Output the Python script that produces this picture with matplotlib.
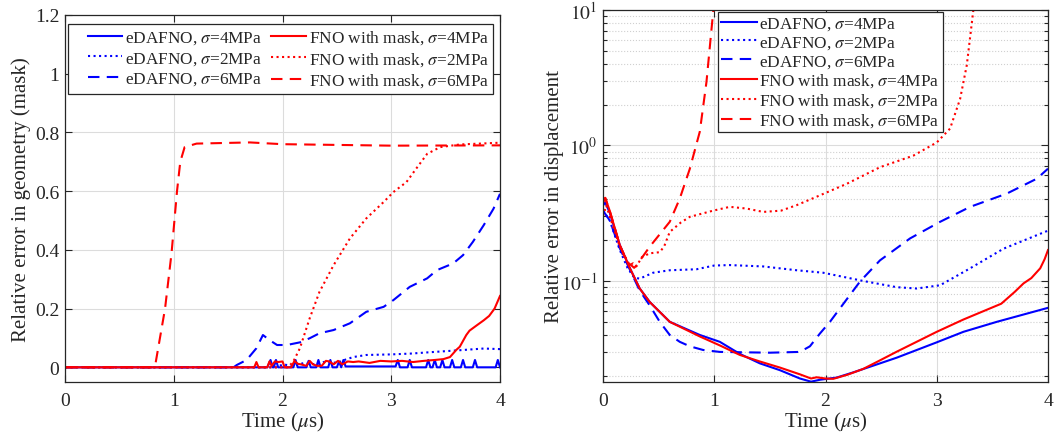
import matplotlib
matplotlib.use("Agg")
import matplotlib.pyplot as plt
from matplotlib.ticker import FixedLocator, LogLocator, NullFormatter
from matplotlib.legend_handler import HandlerLine2D

plt.rcParams['font.family'] = ['Liberation Serif', 'DejaVu Serif']
plt.rcParams['mathtext.fontset'] = 'stix'

# ---------------- Left panel: relative error in geometry (mask) ----------------
L_ed4_t = [0, 1.86, 1.89, 1.91, 1.92, 1.94, 1.96, 2.10, 2.12, 2.14, 2.22, 2.24, 2.26,
           2.31, 2.33, 2.35, 2.42, 2.44, 2.46, 2.50, 2.52, 2.54, 2.56, 2.58, 3.04, 3.06,
           3.08, 3.15, 3.17, 3.19, 3.32, 3.34, 3.36, 3.38, 3.40, 3.42, 3.45, 3.47, 3.49,
           3.54, 3.56, 3.58, 3.64, 3.66, 3.68, 3.75, 3.77, 3.79, 3.96, 3.98, 4.0]
L_ed4_y = [0, 0, 0.025, 0, 0, 0.025, 0, 0, 0.025, 0, 0, 0.022, 0,
           0, 0.025, 0, 0, 0.025, 0, 0, 0.02, 0, 0.025, 0.003, 0.003, 0.025,
           0, 0, 0.025, 0, 0, 0.025, 0, 0, 0.025, 0, 0, 0.025, 0,
           0, 0.025, 0, 0, 0.025, 0, 0, 0.025, 0, 0, 0.025, 0]

L_ed2_t = [0, 1.95, 2.0, 2.1, 2.2, 2.3, 2.4, 2.5, 2.57, 2.65, 2.77, 3.0, 3.19, 3.3, 3.5,
           3.66, 3.85, 4.0]
L_ed2_y = [0, 0, 0.01, 0.005, 0.015, 0.01, 0.02, 0.015, 0.025, 0.035, 0.042, 0.044,
           0.047, 0.05, 0.055, 0.059, 0.064, 0.062]

L_ed6_t = [0, 1.55, 1.58, 1.67, 1.76, 1.82, 1.88, 1.95, 2.04, 2.16, 2.25, 2.34, 2.47,
           2.62, 2.77, 2.93, 3.02, 3.17, 3.33, 3.42, 3.57, 3.66, 3.75, 3.85, 3.94, 4.0]
L_ed6_y = [0, 0, 0.008, 0.025, 0.065, 0.11, 0.093, 0.076, 0.076, 0.085, 0.099, 0.116,
           0.127, 0.15, 0.189, 0.206, 0.229, 0.274, 0.303, 0.331, 0.354, 0.382, 0.427,
           0.484, 0.54, 0.591]

L_fno4_t = [0, 1.74, 1.76, 1.78, 1.86, 1.88, 1.90, 1.93, 1.96, 2.0, 2.02, 2.08, 2.11,
            2.14, 2.17, 2.22, 2.25, 2.28, 2.32, 2.36, 2.40, 2.43, 2.47, 2.51, 2.55, 2.6,
            2.65, 2.7, 2.8, 2.9, 3.0, 3.1, 3.2, 3.3, 3.4, 3.48, 3.54, 3.6, 3.63, 3.69,
            3.72, 3.79, 3.85, 3.9, 3.95, 4.0]
L_fno4_y = [0, 0, 0.018, 0, 0, 0.02, 0.005, 0.02, 0.018, 0.02, 0, 0, 0.022,
            0.012, 0.01, 0.005, 0.022, 0.01, 0.005, 0.005, 0.022, 0.02, 0.01, 0.022,
            0.01, 0.02, 0.018, 0.02, 0.015, 0.022, 0.02, 0.022, 0.018, 0.022, 0.025,
            0.028, 0.035, 0.06, 0.07, 0.11, 0.125, 0.144, 0.16, 0.175, 0.2, 0.243]

L_fno2_t = [0, 2.05, 2.1, 2.16, 2.25, 2.34, 2.47, 2.62, 2.77, 2.93, 3.02, 3.14, 3.23,
            3.33, 3.45, 3.63, 4.0]
L_fno2_y = [0, 0, 0.02, 0.065, 0.167, 0.257, 0.348, 0.439, 0.507, 0.563, 0.597, 0.631,
            0.677, 0.727, 0.75, 0.759, 0.765]

L_fno6_t = [0, 0.8, 0.83, 0.92, 0.98, 1.03, 1.06, 1.10, 1.21, 1.7, 2.0, 3.0, 4.0]
L_fno6_y = [0, 0, 0.008, 0.20, 0.39, 0.60, 0.70, 0.75, 0.762, 0.766, 0.760, 0.755, 0.756]

# ---------------- Right panel: relative error in displacement ----------------
R_ed4_t = [0, 0.02, 0.06, 0.15, 0.24, 0.33, 0.42, 0.60, 0.87, 1.05, 1.23, 1.41, 1.59,
           1.77, 1.87, 1.95, 2.1, 2.25, 2.49, 2.64, 3.0, 3.24, 3.54, 4.0]
R_ed4_y = [0.36, 0.38, 0.32, 0.185, 0.125, 0.088, 0.070, 0.050, 0.040, 0.0356, 0.029,
           0.0247, 0.022, 0.0191, 0.0181, 0.0187, 0.0194, 0.0212, 0.0247, 0.0272,
           0.0353, 0.0422, 0.050, 0.0634]

R_ed2_t = [0, 0.06, 0.15, 0.22, 0.28, 0.33, 0.45, 0.6, 0.84, 1.0, 1.14, 1.44, 1.74,
           1.98, 2.34, 2.64, 2.82, 3.03, 3.3, 3.6, 4.0]
R_ed2_y = [0.33, 0.28, 0.17, 0.125, 0.106, 0.104, 0.115, 0.12, 0.122, 0.13, 0.131,
           0.128, 0.12, 0.115, 0.100, 0.090, 0.088, 0.093, 0.124, 0.173, 0.235]

R_ed6_t = [0, 0.06, 0.15, 0.24, 0.33, 0.42, 0.51, 0.6, 0.69, 0.78, 0.9, 1.05, 1.5,
           1.77, 1.86, 1.95, 2.04, 2.2, 2.31, 2.49, 2.76, 3.03, 3.3, 3.63, 3.9, 4.0]
R_ed6_y = [0.33, 0.28, 0.175, 0.122, 0.085, 0.066, 0.050, 0.040, 0.0356, 0.033, 0.031,
           0.030, 0.0296, 0.030, 0.033, 0.041, 0.050, 0.075, 0.099, 0.142, 0.206,
           0.273, 0.352, 0.441, 0.568, 0.673]

R_fno4_t = [0, 0.02, 0.06, 0.15, 0.24, 0.33, 0.42, 0.60, 0.87, 1.05, 1.23, 1.41, 1.59,
            1.77, 1.87, 1.92, 2.0, 2.07, 2.2, 2.34, 2.49, 2.64, 3.0, 3.24, 3.58, 3.7,
            3.78, 3.85, 3.93, 3.97, 4.0]
R_fno4_y = [0.38, 0.41, 0.33, 0.185, 0.125, 0.088, 0.070, 0.050, 0.039, 0.0335, 0.0285,
            0.0255, 0.0230, 0.0205, 0.0191, 0.0195, 0.0191, 0.0190, 0.0204, 0.0225,
            0.026, 0.0301, 0.0422, 0.052, 0.068, 0.083, 0.096, 0.105, 0.124, 0.145, 0.169]

R_fno2_t = [0, 0.03, 0.06, 0.15, 0.24, 0.27, 0.3, 0.35, 0.42, 0.51, 0.55, 0.6, 0.7,
            0.78, 0.99, 1.14, 1.29, 1.44, 1.6, 1.74, 1.95, 2.19, 2.49, 2.79, 3.0, 3.12,
            3.21, 3.27, 3.33, 3.36]
R_fno2_y = [0.30, 0.36, 0.30, 0.18, 0.131, 0.135, 0.128, 0.15, 0.16, 0.163, 0.18, 0.23,
            0.27, 0.297, 0.33, 0.352, 0.342, 0.323, 0.33, 0.362, 0.428, 0.52, 0.69,
            0.84, 1.05, 1.33, 2.2, 3.9, 10.1, 15]

R_fno6_t = [0, 0.02, 0.06, 0.15, 0.22, 0.243, 0.28, 0.3, 0.42, 0.6, 0.69, 0.78, 0.87,
            0.93, 0.99, 1.0]
R_fno6_y = [0.38, 0.41, 0.33, 0.185, 0.135, 0.133, 0.125, 0.13, 0.179, 0.273, 0.405,
            0.67, 1.26, 2.93, 9.6, 11.5]

labels = [r'eDAFNO, $\sigma$=4MPa', r'eDAFNO, $\sigma$=2MPa', r'eDAFNO, $\sigma$=6MPa',
          r'FNO with mask, $\sigma$=4MPa', r'FNO with mask, $\sigma$=2MPa',
          r'FNO with mask, $\sigma$=6MPa']

BLUE = '#0000ff'
RED = '#ff0000'
DASH = (0, (5.5, 3.5))
styles = [(BLUE, '-'), (BLUE, ':'), (BLUE, DASH),
          (RED, '-'), (RED, ':'), (RED, DASH)]


class OffsetLine(HandlerLine2D):
    """Legend line drawn only in the right part of the handle box."""
    def __init__(self, offset_pts=0.0, **kw):
        super().__init__(**kw)
        self.offset_pts = offset_pts

    def create_artists(self, legend, orig_handle, xdescent, ydescent, width, height,
                       fontsize, trans):
        o = self.offset_pts
        return super().create_artists(legend, orig_handle, xdescent - o, ydescent,
                                      width - o, height, fontsize, trans)


TXT = '#262626'
fig = plt.figure(figsize=(10.55, 4.35), dpi=100)
axL = fig.add_axes([65 / 1055, 1 - 383 / 435, 435 / 1055, 367 / 435])
axR = fig.add_axes([603 / 1055, 1 - 383 / 435, 445 / 1055, 372.3 / 435])

left_series = [(L_ed4_t, L_ed4_y), (L_ed2_t, L_ed2_y), (L_ed6_t, L_ed6_y),
               (L_fno4_t, L_fno4_y), (L_fno2_t, L_fno2_y), (L_fno6_t, L_fno6_y)]
right_series = [(R_ed4_t, R_ed4_y), (R_ed2_t, R_ed2_y), (R_ed6_t, R_ed6_y),
                (R_fno4_t, R_fno4_y), (R_fno2_t, R_fno2_y), (R_fno6_t, R_fno6_y)]

linesL = []
for (t, y), (c, ls), lab in zip(left_series, styles, labels):
    ln, = axL.plot(t, y, color=c, linestyle=ls, linewidth=1.5, label=lab)
    linesL.append(ln)
for (t, y), (c, ls), lab in zip(right_series, styles, labels):
    axR.plot(t, y, color=c, linestyle=ls, linewidth=1.5, label=lab)

FS_T = 14
FS_L = 15
for ax in (axL, axR):
    ax.set_xlim(0, 4)
    ax.set_xticks([0, 1, 2, 3, 4])
    ax.set_xlabel(r'Time ($\mu$s)', fontsize=FS_L, color=TXT, labelpad=1)
    ax.tick_params(which='both', direction='in', top=True, right=True,
                   labelsize=FS_T, colors=TXT, length=5, width=0.8)
    ax.tick_params(axis='x', which='major', pad=7)
    ax.tick_params(axis='y', which='major', pad=4)
    ax.tick_params(which='minor', length=3)
    ax.grid(True, which='major', color='#dcdcdc', linewidth=0.8)
    for s in ax.spines.values():
        s.set_color(TXT)
        s.set_linewidth(0.9)
    ax.set_axisbelow(True)

axL.set_ylim(-0.05, 1.2)
axL.set_yticks([0, 0.2, 0.4, 0.6, 0.8, 1.0, 1.2])
axL.set_yticklabels(['0', '0.2', '0.4', '0.6', '0.8', '1', '1.2'])
axL.set_ylabel('Relative error in geometry (mask)', fontsize=FS_L, color=TXT, labelpad=3)

axR.set_yscale('log')
axR.set_ylim(0.018, 10)
axR.yaxis.set_major_locator(FixedLocator([0.1, 1, 10]))
axR.set_yticklabels([r'$10^{-1}$', r'$10^{0}$', r'$10^{1}$'])
axR.yaxis.set_minor_locator(LogLocator(base=10, subs=range(2, 10)))
axR.yaxis.set_minor_formatter(NullFormatter())
axR.grid(True, which='minor', axis='y', color='#d0d0d0', linestyle=':', linewidth=0.8)
axR.set_ylabel('Relative error in displacement', fontsize=FS_L, color=TXT, labelpad=-2)

LEG_FS = 12.4
legkw = dict(fontsize=LEG_FS, frameon=True, fancybox=False, framealpha=1,
             edgecolor=TXT, handletextpad=0.15, borderaxespad=0)

# left legend: lines start after an inner gap of ~15 px (11 pt)
gap_pt = 11.0
hl_left = (gap_pt + 25.0) / LEG_FS
hm = {ln: OffsetLine(offset_pts=gap_pt) for ln in linesL}
legL = axL.legend(ncol=2, loc='upper left', bbox_to_anchor=(0.007, 0.975),
                  handlelength=hl_left, handler_map=hm, borderpad=0.25,
                  labelspacing=0.22, columnspacing=-0.35, **legkw)
legR = axR.legend(ncol=1, loc='upper left', bbox_to_anchor=(0.258, 0.994),
                  handlelength=2.05, borderpad=0.2, labelspacing=0.12, **legkw)
for leg in (legL, legR):
    leg.get_frame().set_linewidth(0.9)
    for txt in leg.get_texts():
        txt.set_color(TXT)

fig.savefig('out.png', dpi=100)
